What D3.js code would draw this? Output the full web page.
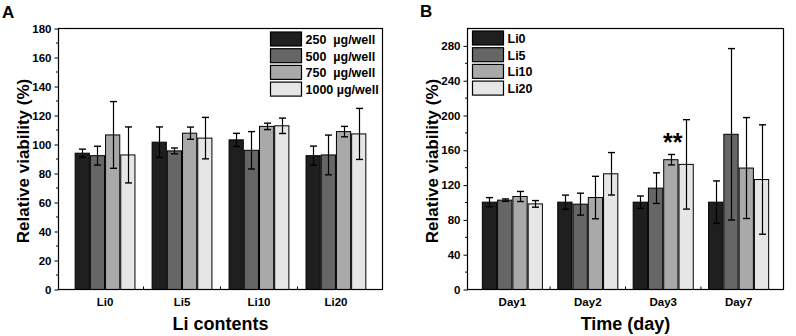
<!DOCTYPE html>
<html>
<head>
<meta charset="utf-8">
<script src="https://cdn.jsdelivr.net/npm/d3@7"></script>
<style>
  body { margin: 0; background: #fff; }
  text { font-family: "Liberation Sans", Arial, sans-serif; font-weight: bold; }
</style>
</head>
<body>
<div id="chart"></div>
<script>
// Panel A data (Li contents)
var contents = ["Li0", "Li5", "Li10", "Li20"];
var doseNames = ["250  \u00b5g/well", "500  \u00b5g/well", "750  \u00b5g/well", "1000 \u00b5g/well"];
var doseMeans = [
    [94, 101.6, 103.2, 92.3],
    [92.3, 95.6, 96, 92.8],
    [106.6, 107.8, 112.5, 108.9],
    [92.8, 104.4, 112.9, 107.3]
];
var doseSd = [
    [2.8, 10.5, 4.5, 6.6],
    [6.5, 2, 12.9, 13.7],
    [23, 4.2, 2.2, 3.6],
    [19.3, 14.3, 5.3, 17.6]
];
var ticksA = [0, 20, 40, 60, 80, 100, 120, 140, 160, 180];

// Panel B data (time)
var days = ["Day1", "Day2", "Day3", "Day7"];
var liNames = ["Li0", "Li5", "Li10", "Li20"];
var liMeans = [
    [100.4, 100.4, 100.4, 100.4],
    [102.7, 98.1, 116.5, 178.4],
    [106.9, 105.7, 149.2, 139.6],
    [98.4, 133, 143.8, 126.4]
];
var liSd = [
    [5.2, 8.1, 7.1, 24.4],
    [1.4, 12.6, 17.6, 98.5],
    [5.8, 24.4, 6, 58],
    [3.8, 24.4, 51.4, 62.9]
];
var ticksB = [0, 40, 80, 120, 160, 200, 240, 280];

var fills = ["#1f1f1f", "#666666", "#a9a9a9", "#e6e6e6"];

var svg = d3.select("#chart").append("svg")
    .attr("width", 796)
    .attr("height", 336);

function panel(opt) {
    var x0 = d3.scaleBand().domain(opt.groups).range([opt.left, opt.right]).padding(opt.pad);
    var x1 = d3.scaleBand().domain(d3.range(4)).range([0, x0.bandwidth()]);
    var y = d3.scaleLinear().domain([0, opt.max]).range([opt.bottom, opt.top]);
    var g = svg.append("g");

    // bars
    opt.means.forEach(function (series, s) {
        series.forEach(function (v, i) {
            g.append("rect")
                .attr("x", x0(opt.groups[i]) + x1(s) + 0.5)
                .attr("y", y(v))
                .attr("width", x1.bandwidth() - 1)
                .attr("height", y(0) - y(v))
                .attr("fill", fills[s])
                .attr("stroke", "#000")
                .attr("stroke-width", 1);
        });
    });

    // error bars
    opt.means.forEach(function (series, s) {
        series.forEach(function (v, i) {
            var cx = Math.round(x0(opt.groups[i]) + x1(s) + x1.bandwidth() / 2) + 0.5;
            var lo = y(v - opt.sd[s][i]), hi = y(v + opt.sd[s][i]);
            g.append("line").attr("x1", cx).attr("x2", cx).attr("y1", lo).attr("y2", hi)
                .attr("stroke", "#000").attr("stroke-width", 1.2);
            [lo, hi].forEach(function (yy) {
                g.append("line").attr("x1", cx - 3.5).attr("x2", cx + 3.5).attr("y1", yy).attr("y2", yy)
                    .attr("stroke", "#000").attr("stroke-width", 1.4);
            });
        });
    });

    // y axis
    var yAxis = g.append("g")
        .attr("transform", "translate(" + opt.left + ",0)")
        .call(d3.axisLeft(y).tickValues(opt.ticks).tickSize(4).tickPadding(3));
    yAxis.select(".domain").remove();
    yAxis.selectAll("text").attr("font-size", 11.5).attr("fill", "#000");
    var minor = d3.range(opt.minor, opt.max, opt.minor * 2);
    g.selectAll(null).data(minor).enter().append("line")
        .attr("x1", opt.left - 2.5).attr("x2", opt.left)
        .attr("y1", function (d) { return y(d); }).attr("y2", function (d) { return y(d); })
        .attr("stroke", "#000");

    // x axis labels
    var xAxis = g.append("g")
        .attr("transform", "translate(0," + opt.bottom + ")")
        .call(d3.axisBottom(x0).tickSize(0).tickPadding(8));
    xAxis.select(".domain").remove();
    xAxis.selectAll("text").attr("font-size", 11.5).attr("fill", "#000");
    // group separators
    opt.groups.slice(1).forEach(function (d) {
        var xs = x0(d) - x0.step() * opt.pad / 2;
        g.append("line").attr("x1", xs).attr("x2", xs)
            .attr("y1", opt.bottom).attr("y2", opt.bottom - 3).attr("stroke", "#000");
    });

    // frame
    g.append("rect")
        .attr("x", opt.left).attr("y", opt.top)
        .attr("width", opt.right - opt.left).attr("height", opt.bottom - opt.top)
        .attr("fill", "none").attr("stroke", "#000").attr("stroke-width", 1.2);

    // titles
    g.append("text")
        .attr("x", (opt.left + opt.right) / 2).attr("y", 330)
        .attr("text-anchor", "middle").attr("font-size", 18)
        .text(opt.xTitle);
    g.append("text")
        .attr("transform", "translate(" + opt.yTitleX + "," + ((opt.top + opt.bottom) / 2 + 2) + ") rotate(-90)")
        .attr("text-anchor", "middle").attr("font-size", 17)
        .text("Relative viability (%)");
    g.append("text")
        .attr("x", opt.labelX).attr("y", opt.labelY)
        .attr("font-size", 17).text(opt.label);

    // legend
    var lg = g.append("g");
    opt.names.forEach(function (n, s) {
        var ty = opt.legTop + s * 16.7;
        lg.append("rect")
            .attr("x", opt.legX).attr("y", ty)
            .attr("width", 31).attr("height", 14)
            .attr("fill", fills[s]).attr("stroke", "#000").attr("stroke-width", 1.2);
        lg.append("text")
            .attr("x", opt.legX + 35).attr("y", ty + 12)
            .attr("font-size", 12.5).style("white-space", "pre")
            .text(n);
    });

    return { x0: x0, x1: x1, y: y };
}

panel({
    groups: contents, means: doseMeans, sd: doseSd, names: doseNames,
    left: 58.5, right: 382.5, top: 28.5, bottom: 289.5, max: 180, pad: 0.21,
    ticks: ticksA, minor: 10, xTitle: "Li contents", yTitleX: 29,
    label: "A", labelX: 2, labelY: 18, legX: 270.5, legTop: 32
});

var pb = panel({
    groups: days, means: liMeans, sd: liSd, names: liNames,
    left: 467.5, right: 783.5, top: 28.5, bottom: 289.5, max: 300, pad: 0.19,
    ticks: ticksB, minor: 20, xTitle: "Time (day)", yTitleX: 438,
    label: "B", labelX: 420, labelY: 17, legX: 472.5, legTop: 31
});

// significance mark on Day3 / Li10
var sx = pb.x0("Day3") + pb.x1(2) + pb.x1.bandwidth() / 2 + 2;
svg.append("text")
    .attr("x", sx).attr("y", pb.y(liMeans[2][2] + liSd[2][2]) - 3)
    .attr("text-anchor", "middle").attr("font-size", 25)
    .text("**");
</script>
</body>
</html>
